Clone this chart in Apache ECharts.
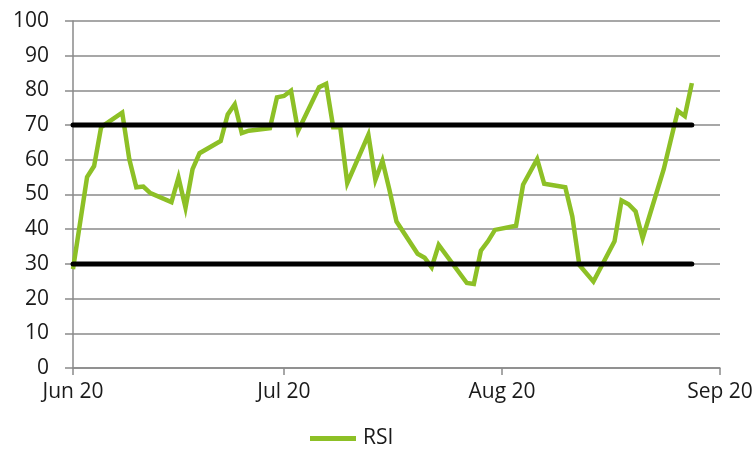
<!DOCTYPE html>
<html>
<head>
<meta charset="utf-8">
<script src="https://cdn.jsdelivr.net/npm/echarts@6/dist/echarts.min.js"></script>
<style>
html,body{margin:0;padding:0;background:#fff;}
#chart{width:756px;height:453px;}
</style>
</head>
<body>
<div id="chart"></div>
<script>
// ---- data ----
const dates = [
  '2020-06-01','2020-06-03','2020-06-04','2020-06-05',
  '2020-06-08','2020-06-09','2020-06-10','2020-06-11','2020-06-12',
  '2020-06-15','2020-06-16','2020-06-17','2020-06-18','2020-06-19',
  '2020-06-22','2020-06-23','2020-06-24','2020-06-25','2020-06-26',
  '2020-06-29','2020-06-30','2020-07-01','2020-07-02','2020-07-03',
  '2020-07-06','2020-07-07','2020-07-08','2020-07-09','2020-07-10',
  '2020-07-13','2020-07-14','2020-07-15','2020-07-16','2020-07-17',
  '2020-07-20','2020-07-21','2020-07-22','2020-07-23',
  '2020-07-27','2020-07-28','2020-07-29','2020-07-30','2020-07-31',
  '2020-08-03','2020-08-04','2020-08-06','2020-08-07',
  '2020-08-10','2020-08-11','2020-08-12','2020-08-14',
  '2020-08-17','2020-08-18','2020-08-19','2020-08-20','2020-08-21',
  '2020-08-24','2020-08-26','2020-08-27','2020-08-28'
];
const rsi = [
  28.5, 55.0, 58.2, 69.4,
  73.6, 60.2, 52.1, 52.3, 50.4,
  47.8, 54.9, 46.2, 57.3, 61.9,
  65.4, 73.1, 76.0, 67.7, 68.4,
  69.1, 78.0, 78.4, 79.9, 68.3,
  80.9, 81.9, 69.4, 69.4, 53.3,
  67.2, 54.2, 59.7, 51.3, 42.2,
  32.9, 31.8, 29.0, 35.5,
  24.5, 24.2, 33.8, 36.5, 39.8,
  41.0, 52.8, 60.2, 53.1,
  52.1, 43.7, 29.7, 24.9,
  36.5, 48.3, 47.2, 45.1, 37.4,
  57.3, 74.1, 72.6, 82.1
];
const overbought = 70;
const oversold = 30;
const tickDates = ['2020-06-01','2020-07-01','2020-08-01','2020-09-01'];
const tickLabels = ['Jun 20','Jul 20','Aug 20','Sep 20'];

// ---- helpers ----
function ts(s){ const p = s.split('-').map(Number); return Date.UTC(p[0], p[1]-1, p[2]); }
const tickTs = tickDates.map(ts);
const rsiData = dates.map((d,i)=>[ts(d), rsi[i]]);
const firstT = ts(dates[0]);
const lastT = ts(dates[dates.length-1]);

const FONT = '"Open Sans", "Noto Sans", sans-serif';
const GRID = '#8a8a8a';

const chart = echarts.init(document.getElementById('chart'), null, {renderer:'canvas'});
chart.setOption({
  animation:false,
  backgroundColor:'#ffffff',
  grid:{left:73, right:36, top:21, bottom:85, containLabel:false},
  legend:{
    data:['RSI'],
    left:310, top:428, padding:0,
    itemWidth:46, itemHeight:5, itemGap:10,
    icon:'rect',
    textStyle:{fontFamily:FONT, fontSize:21, color:'#1a1a1a', padding:[0,0,0,2]}
  },
  xAxis:{
    type:'value',
    min:tickTs[0], max:tickTs[tickTs.length-1],
    splitLine:{show:false},
    axisLine:{show:true, onZero:false, lineStyle:{color:GRID, width:1.5}},
    axisTick:{show:true, length:7, lineStyle:{color:GRID, width:1.5}, customValues:tickTs},
    axisLabel:{
      customValues:tickTs,
      margin:14,
      fontFamily:FONT, fontSize:21, color:'#1a1a1a',
      formatter:function(v){ const i = tickTs.indexOf(v); return i>=0 ? tickLabels[i] : ''; }
    }
  },
  yAxis:{
    type:'value', min:0, max:100, interval:10,
    axisLine:{show:true, lineStyle:{color:GRID, width:1.5}},
    axisTick:{show:true, length:8, lineStyle:{color:GRID, width:1.5}},
    splitLine:{show:true, lineStyle:{color:GRID, width:1.5}},
    axisLabel:{margin:24, fontFamily:FONT, fontSize:21, color:'#1a1a1a'}
  },
  series:[
    {
      name:'RSI', type:'line', data:rsiData,
      showSymbol:false, symbol:'none',
      lineStyle:{color:'#8DC026', width:4.5, join:'miter'},
      itemStyle:{color:'#8DC026'},
      z:2
    },
    {
      name:'Overbought', type:'line',
      data:[[firstT, overbought],[lastT, overbought]],
      symbol:'none', lineStyle:{color:'#000', width:5, cap:'round'},
      silent:true, z:3
    },
    {
      name:'Oversold', type:'line',
      data:[[firstT, oversold],[lastT, oversold]],
      symbol:'none', lineStyle:{color:'#000', width:5, cap:'round'},
      silent:true, z:3
    }
  ]
});
</script>
</body>
</html>
